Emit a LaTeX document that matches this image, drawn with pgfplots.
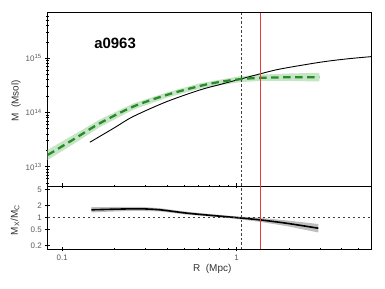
\documentclass[border=0pt]{standalone}
\usepackage{fontspec}
\setmainfont{Liberation Sans}
\usepackage{pgfplots}
\pgfplotsset{compat=1.18}
\definecolor{dgreen}{RGB}{40,140,40}
\definecolor{lgreen}{RGB}{198,229,198}
\definecolor{bandgrey}{RGB}{190,190,190}
\definecolor{ticklab}{RGB}{90,90,90}
\definecolor{labcol}{RGB}{50,50,50}
\definecolor{redline}{RGB}{232,60,60}
\begin{document}
\begin{tikzpicture}
\useasboundingbox (-47.7bp,-103bp) rectangle (337.3bp,186bp);
\begin{axis}[
  scale only axis, width=324bp,
  xmode=log, ymode=log,
  xmin=0.0825, xmax=5.95,
  xtick pos=bottom, ytick pos=left,
  tick align=center,
  major tick length=5bp, minor tick length=2.5bp,
  tick style={black, line width=0.6bp},
  axis line style={line width=0.8bp},
  tick label style={font=\fontsize{8}{9}\selectfont, text=ticklab},
  label style={font=\fontsize{10}{12}\selectfont, text=labcol},
  name=top, at={(0,0)}, anchor=south west,
  height=173.3bp,
  ymin=4.4e12, ymax=6.9e15,
  xtick={0.1,1}, xticklabels={},
  ytick={1e13,1e14,1e15},
  yticklabels={10\textsuperscript{13},10\textsuperscript{14},10\textsuperscript{15}},
  minor ytick={5e12,6e12,7e12,8e12,9e12,2e13,3e13,4e13,5e13,6e13,7e13,8e13,9e13,2e14,3e14,4e14,5e14,6e14,7e14,8e14,9e14,2e15,3e15,4e15,5e15,6e15},
  ylabel={M\ \ (Msol)},
  ylabel style={at={(axis description cs:-0.098,0.49)}, rotate=0, anchor=center},
]
% green band
\addplot[draw=none, fill=lgreen] coordinates {
 (0.0825,2.05e13) (0.12,4.1e13) (0.164,7.4e13) (0.255,1.46e14) (0.4,2.35e14)
 (0.617,3.45e14) (1.045,4.65e14) (1.36,4.98e14) (2.0,5.22e14) (2.98,5.38e14)
 (2.98,3.72e14) (2.0,3.80e14) (1.36,3.80e14) (1.045,3.62e14) (0.617,2.75e14)
 (0.4,1.88e14) (0.255,1.12e14) (0.164,5.35e13) (0.12,2.8e13) (0.0825,1.33e13)
 (0.0825,2.05e13)
};
% black solid
\addplot[black, line width=0.9bp, smooth] coordinates {
 (0.144,2.82e13) (0.2,5.26e13) (0.255,8.4e13) (0.397,1.58e14) (0.617,2.6e14)
 (0.8,3.26e14) (1.045,4.1e14) (1.36,5.13e14) (1.77,6.3e14) (3.0,8.4e14)
 (4.28,9.7e14) (5.95,1.07e15)
};
% green dashed
\addplot[dgreen, line width=2.3bp, dash pattern=on 7.5bp off 4.5bp, smooth] coordinates {
 (0.0825,1.65e13) (0.0888,1.89e13) (0.12,3.4e13) (0.164,6.3e13) (0.255,1.28e14)
 (0.397,2.1e14) (0.617,3.08e14) (0.8,3.65e14) (1.045,4.1e14) (1.36,4.34e14)
 (2.0,4.45e14) (2.98,4.47e14)
};
\addplot[gray!50!black, line width=0.8bp, dash pattern=on 2.5bp off 2bp] coordinates {(1.06,4.4e12) (1.06,6.9e15)};
\addplot[redline, line width=0.8bp] coordinates {(1.36,4.4e12) (1.36,6.9e15)};
\node[font=\fontsize{15}{18}\selectfont\bfseries] at (rel axis cs:0.208,0.825) {a0963};
\end{axis}
\begin{axis}[
  scale only axis, width=324bp,
  xmode=log, ymode=log,
  xmin=0.0825, xmax=5.95,
  xtick pos=bottom, ytick pos=left,
  tick align=center,
  major tick length=5bp, minor tick length=2.5bp,
  tick style={black, line width=0.6bp},
  axis line style={line width=0.8bp},
  tick label style={font=\fontsize{8}{9}\selectfont, text=ticklab},
  label style={font=\fontsize{10}{12}\selectfont, text=labcol},
  name=bot, at={(0,0)}, anchor=north west,
  height=63bp,
  ymin=0.165, ymax=6.1,
  xtick={0.1,1}, xticklabels={0.1,1},
  minor xtick={0.2,0.3,0.4,0.5,0.6,0.7,0.8,0.9,2,3,4,5},
  ytick={0.2,0.5,1,2,5}, yticklabels={0.2,0.5,1,2,5},
  xlabel={R\ \ (Mpc)},
  ylabel={M\textsubscript{X}/M\textsubscript{C}},
  xlabel style={at={(axis description cs:0.508,-0.31)}, anchor=center},
  ylabel style={at={(axis description cs:-0.101,0.46)}, anchor=center},
]
\addplot[draw=none, fill=bandgrey] coordinates {
 (0.147,1.811) (0.205,1.839) (0.279,1.851) (0.363,1.710) (0.516,1.398) (0.734,1.201)
 (0.99,1.072) (1.36,0.983) (1.94,0.846) (2.94,0.692)
 (2.94,0.426) (1.94,0.613) (1.36,0.781) (0.99,0.933) (0.734,1.045) (0.516,1.190)
 (0.363,1.423) (0.279,1.471) (0.205,1.427) (0.147,1.344) (0.147,1.811)
};
\addplot[black, line width=1.6bp, smooth] coordinates {
 (0.147,1.56) (0.205,1.62) (0.279,1.65) (0.363,1.56) (0.516,1.29) (0.734,1.12)
 (0.99,1.0) (1.36,0.876) (1.94,0.72) (2.94,0.543)
};
\addplot[gray!50!black, line width=0.8bp, dash pattern=on 2.5bp off 2.5bp] coordinates {(0.0825,1) (5.95,1)};
\addplot[gray!50!black, line width=0.8bp, dash pattern=on 2.5bp off 2bp] coordinates {(1.06,0.165) (1.06,6.1)};
\addplot[redline, line width=0.8bp] coordinates {(1.36,0.165) (1.36,6.1)};
\end{axis}
\end{tikzpicture}
\end{document}
